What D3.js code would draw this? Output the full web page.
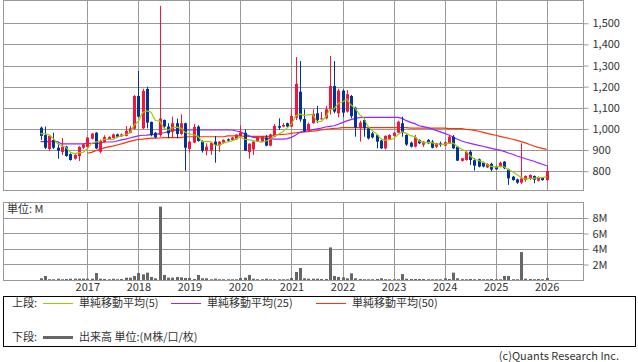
<!DOCTYPE html>
<html>
<head>
<meta charset="utf-8">
<script src="https://cdn.jsdelivr.net/npm/d3@7"></script>
<style>
body { margin: 0; background: #fff; }
text { font-family: "Noto Sans CJK JP", "DejaVu Sans", sans-serif; font-size: 11px; fill: #333; }
</style>
</head>
<body>
<script>
// monthly candles, Feb 2016 .. Jan 2026
var open = [1006, 971, 905, 948, 911, 891, 916, 881, 859, 872,
    911, 915, 954, 982, 892, 938, 951, 957, 974, 965,
    967, 982, 1001, 1156, 1003, 1189, 1033, 982, 971, 1042,
    1011, 987, 1027, 976, 1027, 905, 935, 1011, 943, 897,
    897, 940, 921, 935, 951, 948, 951, 967, 982, 891,
    903, 940, 940, 959, 921, 963, 1014, 1011, 1027, 1011,
    1053, 1176, 1047, 995, 1027, 1074, 1050, 1050, 1093, 1203,
    1074, 1181, 1082, 1156, 1100, 1003, 1042, 1003, 979, 971,
    945, 908, 951, 967, 982, 1027, 971, 935, 916, 948,
    925, 948, 940, 916, 932, 921, 932, 963, 916, 849,
    853, 892, 852, 856, 840, 818, 835, 822, 822, 845,
    809, 774, 761, 746, 758, 763, 777, 755, 769, 758];

var high = [1011, 1011, 970, 982, 932, 957, 920, 885, 880, 918,
    930, 962, 980, 985, 950, 970, 965, 978, 978, 978,
    1014, 1014, 1160, 1274, 1190, 1200, 1035, 985, 1582, 1045,
    1027, 1058, 1049, 1069, 1030, 942, 1023, 1017, 946, 932,
    937, 967, 942, 950, 955, 962, 975, 1017, 998, 932,
    942, 962, 966, 971, 977, 1023, 1050, 1027, 1030, 1096,
    1340, 1321, 1093, 1030, 1093, 1109, 1080, 1109, 1345, 1321,
    1190, 1187, 1184, 1161, 1105, 1039, 1050, 1011, 985, 975,
    948, 970, 975, 985, 1039, 1058, 975, 940, 971, 950,
    942, 952, 948, 935, 940, 940, 971, 971, 918, 862,
    895, 900, 862, 860, 845, 838, 840, 826, 845, 848,
    812, 778, 765, 932, 780, 785, 780, 775, 772, 829];

var low = [948, 905, 895, 905, 859, 877, 868, 850, 855, 848,
    905, 912, 950, 905, 885, 935, 948, 955, 960, 962,
    965, 980, 998, 1055, 998, 1003, 965, 955, 963, 1005,
    956, 956, 956, 970, 803, 888, 933, 940, 888, 875,
    877, 840, 892, 930, 940, 945, 948, 965, 895, 859,
    877, 938, 937, 918, 918, 960, 995, 1008, 1008, 1009,
    1042, 1034, 985, 990, 1025, 1027, 1045, 1045, 1068, 1074,
    1055, 1055, 1077, 1050, 963, 940, 963, 950, 955, 908,
    905, 903, 948, 965, 980, 963, 920, 912, 913, 928,
    915, 928, 908, 910, 916, 918, 929, 905, 848, 845,
    850, 830, 803, 818, 818, 815, 800, 808, 818, 810,
    735, 755, 740, 740, 750, 758, 743, 752, 755, 755];

var close = [967, 911, 967, 911, 897, 916, 872, 853, 877, 915,
    927, 959, 978, 908, 943, 962, 962, 974, 963, 974,
    990, 1003, 1156, 1058, 1180, 1030, 971, 960, 1049, 1011,
    979, 1027, 976, 1027, 911, 940, 1009, 943, 897, 916,
    935, 924, 940, 948, 945, 959, 973, 982, 897, 930,
    940, 959, 963, 921, 974, 1014, 1006, 1019, 1011, 1061,
    1213, 1045, 990, 1023, 1071, 1042, 1050, 1093, 1203, 1082,
    1181, 1077, 1164, 1060, 1006, 1030, 1003, 955, 960, 940,
    908, 967, 971, 982, 1034, 982, 926, 916, 960, 932,
    940, 932, 911, 932, 924, 937, 963, 908, 850, 861,
    892, 853, 826, 822, 822, 834, 808, 809, 840, 814,
    766, 758, 746, 766, 777, 782, 760, 769, 758, 801];

// volume, millions
var volume = [0.22, 0.52, 0.1, 0.1, 0.17, 0.1, 0.13, 0.17, 0.17, 0.17,
    0.17, 0.17, 0.17, 0.9, 0.17, 0.13, 0.1, 0.17, 0.1, 0.13,
    0.3, 0.3, 0.52, 0.9, 0.73, 0.95, 0.39, 0.22, 9.46, 0.65,
    0.3, 0.3, 0.39, 0.34, 0.26, 0.26, 0.13, 0.65, 0.22, 0.22,
    0.1, 0.17, 0.1, 0.1, 0.1, 0.1, 0.1, 0.26, 0.3, 0.65,
    0.17, 0.1, 0.1, 0.17, 0.1, 0.1, 0.1, 0.1, 0.1, 0.26,
    1.03, 1.55, 0.22, 0.17, 0.17, 0.17, 0.13, 0.13, 4.2, 0.52,
    0.39, 0.34, 0.22, 0.86, 0.22, 0.13, 0.1, 0.1, 0.1, 0.13,
    0.22, 0.1, 0.1, 0.1, 0.1, 0.77, 0.17, 0.13, 0.13, 0.13,
    0.13, 0.1, 0.1, 0.1, 0.1, 0.22, 0.13, 0.95, 0.22, 0.1,
    0.1, 0.13, 0.1, 0.13, 0.1, 0.1, 0.13, 0.1, 0.1, 0.52,
    0.52, 0.1, 0.1, 3.6, 0.17, 0.13, 0.1, 0.13, 0.1, 0.26];

// moving averages (5-month line before enough closes exist)
var ma5Head = [978, 978, 972, 955];

var ma25 = [940, 940, 940, 940, 940, 929, 929, 929, 929, 929,
    929, 932, 932, 932, 932, 938, 938, 938, 943, 948,
    952, 957, 962, 967, 970, 971, 973, 974, 978, 982,
    987, 992, 995, 995, 995, 995, 995, 995, 995, 995,
    995, 995, 995, 995, 995, 995, 990, 986, 976, 967,
    960, 959, 957, 956, 954, 952, 952, 952, 954, 960,
    971, 984, 989, 992, 997, 1000, 1004, 1009, 1012, 1015,
    1022, 1030, 1038, 1044, 1050, 1053, 1055, 1055, 1055, 1055,
    1055, 1055, 1055, 1055, 1055, 1050, 1039, 1031, 1025, 1015,
    1011, 1006, 1000, 993, 986, 979, 971, 962, 951, 943,
    937, 932, 927, 922, 918, 913, 908, 903, 900, 894,
    886, 880, 872, 866, 859, 853, 847, 839, 833, 826];

var ma50 = [null, null, null, null, null, null, null, null, null, null,
    null, 885, 889, 897, 903, 910, 915, 919, 924, 929,
    935, 941, 946, 951, 952, 954, 956, 956, 957, 959,
    959, 959, 959, 959, 963, 963, 963, 963, 963, 963,
    963, 963, 963, 963, 967, 967, 967, 967, 965, 965,
    965, 965, 965, 965, 965, 970, 973, 974, 976, 979,
    982, 984, 986, 987, 990, 992, 995, 998, 1000, 1003,
    1004, 1006, 1006, 1006, 1006, 1006, 1006, 1006, 1006, 1006,
    1006, 1006, 1006, 1006, 1006, 1006, 1006, 1004, 1004, 1004,
    1004, 1004, 1004, 1004, 1004, 1004, 1001, 1001, 1001, 1001,
    998, 997, 993, 989, 984, 979, 974, 970, 965, 960,
    956, 951, 946, 940, 934, 926, 919, 913, 908, 903];

var years = ["2017", "2018", "2019", "2020", "2021", "2022", "2023", "2024", "2025", "2026"];
var priceTicks = [800, 900, 1000, 1100, 1200, 1300, 1400, 1500];
var volTicks = [2, 4, 6, 8];

var width = 638,
    height = 362,
    left = 3,
    right = 583;

var data = open.map(function(o, i) {
    return { i: i, o: o, h: high[i], l: low[i], c: close[i], v: volume[i] };
});

var ma5 = close.map(function(c, i) {
    if (i < 4) return ma5Head[i];
    return d3.mean(close.slice(i - 4, i + 1));
});

var svg = d3.select("body").append("svg")
    .attr("width", width)
    .attr("height", height);

// month index -> x, Jan 2017 is index 11
var x = d3.scaleLinear().domain([11, 119]).range([87.3, 546.7]);
var y = d3.scaleLinear().domain([711, 1610]).range([190, 0]);
var yv = d3.scaleLinear().domain([0, 10.06]).range([280, 202]);

var yearIdx = years.map(function(d, k) { return 11 + 12 * k; });
var px = function(i) { return Math.round(x(i)) + 0.5; };

function panel(top, bottom, yScale, ticks, fmt) {
    var g = svg.append("g");
    g.append("rect")
        .attr("x", left + 0.5).attr("y", top + 0.5)
        .attr("width", right - left).attr("height", bottom - top)
        .attr("fill", "#fff").attr("stroke", "#999");
    g.selectAll(".vg").data(yearIdx).enter().append("line")
        .attr("x1", px).attr("x2", px)
        .attr("y1", top).attr("y2", bottom)
        .attr("stroke", "#999");
    g.selectAll(".hg").data(ticks).enter().append("line")
        .attr("x1", left).attr("x2", right)
        .attr("y1", function(d) { return Math.round(yScale(d)) + 0.5; })
        .attr("y2", function(d) { return Math.round(yScale(d)) + 0.5; })
        .attr("stroke", "#999");
    var ax = svg.append("g")
        .attr("transform", "translate(" + (right + 0.5) + ",0)")
        .call(d3.axisRight(yScale).tickValues(ticks).tickSize(5).tickPadding(4).tickFormat(fmt));
    ax.select(".domain").remove();
    ax.selectAll("line").attr("stroke", "#999");
    ax.selectAll("text").attr("fill", "#333").style("font-size", "11px");
    return g;
}

panel(0, 190, y, priceTicks, d3.format(","));
panel(202, 280, yv, volTicks, function(d) { return d + "M"; });

// clip for price marks
svg.append("clipPath").attr("id", "pclip")
    .append("rect").attr("x", left).attr("y", 0).attr("width", right - left).attr("height", 190);

var pg = svg.append("g").attr("clip-path", "url(#pclip)");

var maLine = function(arr) {
    return d3.line()
        .defined(function(d) { return d != null; })
        .x(function(d, i) { return x(i); })
        .y(function(d) { return y(d); })(arr);
};

pg.append("path").attr("d", maLine(ma50)).attr("fill", "none").attr("stroke", "#ff3300").attr("stroke-width", 1.2);
pg.append("path").attr("d", maLine(ma25)).attr("fill", "none").attr("stroke", "#9922ff").attr("stroke-width", 1.2);

var candle = pg.selectAll(".candle").data(data).enter().append("g");
candle.append("line")
    .attr("x1", function(d) { return px(d.i); })
    .attr("x2", function(d) { return px(d.i); })
    .attr("y1", function(d) { return y(d.h); })
    .attr("y2", function(d) { return y(d.l); })
    .attr("stroke", function(d) { return d.c >= d.o ? "#f5143c" : "#003399"; });
candle.append("rect")
    .attr("x", function(d) { return Math.round(x(d.i)) - 1; })
    .attr("width", 3)
    .attr("y", function(d) { return y(Math.max(d.o, d.c)); })
    .attr("height", function(d) { return Math.max(1, Math.abs(y(d.o) - y(d.c))); })
    .attr("fill", function(d) { return d.c >= d.o ? "#f5143c" : "#003399"; });

pg.append("path").attr("d", maLine(ma5)).attr("fill", "none").attr("stroke", "#99cc00").attr("stroke-width", 1.2);

// volume
svg.append("g").selectAll("rect").data(data).enter().append("rect")
    .attr("x", function(d) { return Math.round(x(d.i)) - 1; })
    .attr("width", 3)
    .attr("y", function(d) { return yv(d.v); })
    .attr("height", function(d) { return yv(0) - yv(d.v); })
    .attr("fill", "#666");

svg.append("text").attr("x", 7).attr("y", 213).text("単位: M");

// year labels
var xa = svg.append("g")
    .attr("transform", "translate(0,280)")
    .call(d3.axisBottom(x).tickValues(yearIdx).tickSize(0).tickPadding(3)
        .tickFormat(function(d, k) { return years[k]; }));
xa.select(".domain").remove();
xa.selectAll("text").attr("fill", "#333").style("font-size", "11px");

// legend
var lg = svg.append("g");
lg.append("rect").attr("x", 3.5).attr("y", 296.5).attr("width", 632).attr("height", 50)
    .attr("fill", "none").attr("stroke", "#000");

var items = [
    { x: 43, color: "#99cc00", label: "単純移動平均(5)" },
    { x: 171, color: "#9922ff", label: "単純移動平均(25)" },
    { x: 316, color: "#ff3300", label: "単純移動平均(50)" }
];
lg.append("text").attr("x", 12).attr("y", 307).text("上段:");
items.forEach(function(d) {
    lg.append("line").attr("x1", d.x).attr("x2", d.x + 30).attr("y1", 303.5).attr("y2", 303.5)
        .attr("stroke", d.color);
    lg.append("text").attr("x", d.x + 36).attr("y", 307).text(d.label);
});
lg.append("text").attr("x", 12).attr("y", 341).text("下段:");
lg.append("line").attr("x1", 43).attr("x2", 73).attr("y1", 337.5).attr("y2", 337.5)
    .attr("stroke", "#666").attr("stroke-width", 3);
lg.append("text").attr("x", 79).attr("y", 341).text("出来高 単位:(M株/口/枚)");

svg.append("text").attr("x", 619).attr("y", 360).attr("text-anchor", "end")
    .attr("fill", "#666").text("(c)Quants Research Inc.");
</script>
</body>
</html>
